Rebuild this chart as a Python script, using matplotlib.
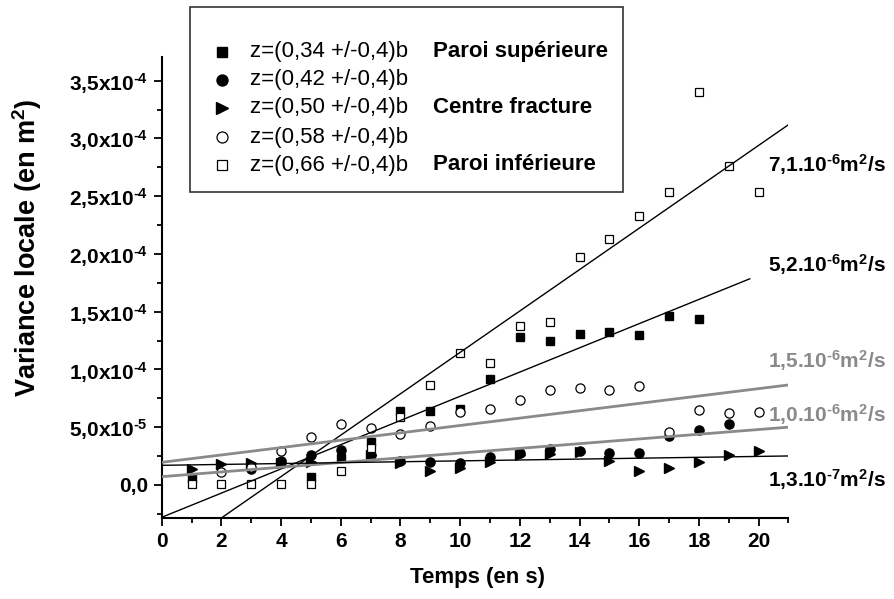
import numpy as np
import matplotlib
matplotlib.use("Agg")
import matplotlib.pyplot as plt
from matplotlib.lines import Line2D
from matplotlib.patches import Rectangle

plt.rcParams['font.family'] = ['Liberation Sans', 'DejaVu Sans']
plt.rcParams['mathtext.fontset'] = 'custom'
plt.rcParams['mathtext.rm'] = 'Liberation Sans:bold'
plt.rcParams['mathtext.bf'] = 'Liberation Sans:bold'
plt.rcParams['mathtext.default'] = 'bf'

# values in units of 1e-4 m^2
t_sup = [1, 4, 5, 6, 7, 8, 9, 10, 11, 12, 13, 14, 15, 16, 17, 18]
v_sup = [0.06, 0.19, 0.072, 0.23, 0.375, 0.64, 0.643, 0.66, 0.92, 1.28, 1.25, 1.31, 1.32, 1.30, 1.466, 1.44]

t_042 = [3, 4, 5, 6, 7, 8, 9, 10, 11, 12, 13, 14, 15, 16, 17, 18, 19]
v_042 = [0.14, 0.21, 0.26, 0.303, 0.26, 0.21, 0.20, 0.19, 0.24, 0.274, 0.31, 0.29, 0.28, 0.28, 0.42, 0.476, 0.525]

t_cen = [1, 2, 3, 4, 5, 7, 8, 9, 10, 11, 12, 13, 14, 15, 16, 17, 18, 19, 20]
v_cen = [0.136, 0.18, 0.188, 0.19, 0.20, 0.26, 0.19, 0.124, 0.144, 0.20, 0.26, 0.27, 0.285, 0.21, 0.124, 0.144, 0.20, 0.26, 0.297]

t_058 = [2, 3, 4, 5, 6, 7, 8, 9, 10, 11, 12, 13, 14, 15, 16, 17, 18, 19, 20]
v_058 = [0.115, 0.153, 0.29, 0.413, 0.525, 0.49, 0.44, 0.51, 0.63, 0.655, 0.736, 0.82, 0.837, 0.82, 0.857, 0.46, 0.65, 0.626, 0.635]

t_inf = [1, 2, 3, 4, 5, 6, 7, 8, 9, 10, 11, 12, 13, 14, 15, 16, 17, 18, 19, 20]
v_inf = [0.01, 0.01, 0.01, 0.01, 0.01, 0.124, 0.323, 0.586, 0.866, 1.145, 1.06, 1.377, 1.41, 1.97, 2.13, 2.33, 2.54, 3.40, 2.76, 2.54]

# linear fits (intercept, slope in 1e-4 units), drawn from 0 to t_end
fit_names = [r'7,1.10$^{\text{-}6}$m$^{2}$/s', r'5,2.10$^{\text{-}6}$m$^{2}$/s', r'1,5.10$^{\text{-}6}$m$^{2}$/s',
             r'1,0.10$^{\text{-}6}$m$^{2}$/s', r'1,3.10$^{\text{-}7}$m$^{2}$/s']
fit_b = [-0.644, -0.28, 0.196, 0.072, 0.17]
fit_a = [0.1792, 0.1048, 0.0319, 0.0204, 0.00386]
fit_end = [21, 19.7, 21, 21, 21]
fit_col = ['black', 'black', '#8a8a8a', '#8a8a8a', 'black']
fit_lw = [1.0, 1.0, 2.0, 2.0, 1.0]
label_y = [2.77, 1.905, 1.08, 0.606, 0.043]

legend_z = ['z=(0,34 +/-0,4)b', 'z=(0,42 +/-0,4)b', 'z=(0,50 +/-0,4)b', 'z=(0,58 +/-0,4)b', 'z=(0,66 +/-0,4)b']
legend_name = ['Paroi supérieure', '', 'Centre fracture', '', 'Paroi inférieure']

ytick_vals = [0, 0.5, 1.0, 1.5, 2.0, 2.5, 3.0, 3.5]
ytick_labels = ['0,0', r'5,0x10$^{\text{-}5}$', r'1,0x10$^{\text{-}4}$', r'1,5x10$^{\text{-}4}$',
                r'2,0x10$^{\text{-}4}$', r'2,5x10$^{\text{-}4}$', r'3,0x10$^{\text{-}4}$', r'3,5x10$^{\text{-}4}$']

W, H = 895, 599
fig = plt.figure(figsize=(W / 100, H / 100), dpi=100)
ax = fig.add_axes([161.7 / W, 1 - 518 / H, (788.5 - 161.7) / W, (518 - 57) / H])

styles = [
    (t_sup, v_sup, dict(marker='s', ms=6.2, mfc='black', mec='black')),
    (t_042, v_042, dict(marker='o', ms=6.6, mfc='black', mec='black')),
    (t_cen, v_cen, dict(marker='>', ms=6.8, mfc='black', mec='black')),
    (t_058, v_058, dict(marker='o', ms=6.6, mfc='white', mec='black', mew=0.9)),
    (t_inf, v_inf, dict(marker='s', ms=6.0, mfc='white', mec='black', mew=0.9)),
]
handles = []
for t, v, st in styles:
    ax.plot(t, np.array(v) * 1e-4, ls='none', zorder=2, **st)
    handles.append(st)

for b, a, te, c, lw, name, ly in zip(fit_b, fit_a, fit_end, fit_col, fit_lw, fit_names, label_y):
    tt = np.array([0, te])
    ax.plot(tt, (b + a * tt) * 1e-4, color=c, lw=lw, zorder=3)
    ax.text(20.3, ly * 1e-4, name, color=c, fontsize=15, fontweight='bold',
            ha='left', va='center', clip_on=False)

ax.set_xlim(0, 21)
ax.set_ylim(-0.286e-4, 3.705e-4)
ax.set_xticks(np.arange(0, 21, 2))
ax.set_xticks(np.arange(0, 22, 1), minor=True)
ax.set_yticks(np.array(ytick_vals) * 1e-4)
ax.set_yticklabels(ytick_labels)
ax.set_yticks(np.arange(-0.25, 3.75, 0.25) * 1e-4, minor=True)
for s in ['top', 'right']:
    ax.spines[s].set_visible(False)
for s in ['left', 'bottom']:
    ax.spines[s].set_linewidth(1.5)
ax.tick_params(which='major', direction='out', length=6, width=1.3, labelsize=15, pad=4)
ax.tick_params(which='minor', direction='out', length=3.5, width=1.3)
for lab in ax.get_xticklabels() + ax.get_yticklabels():
    lab.set_fontweight('bold')

fig.text(478 / W, 1 - 578 / H, 'Temps (en s)', fontsize=16, fontweight='bold', ha='center', va='center')
fig.text(27 / W, 1 - 248 / H, 'Variance locale (en m$^{2}$)', fontsize=19.5, fontweight='bold',
         rotation=90, ha='center', va='center')

# legend box
fig.add_artist(Rectangle((190 / W, 1 - 192 / H), (623 - 190) / W, (192 - 7) / H,
                         transform=fig.transFigure, fill=False, ec='#333333', lw=1.2))
rows = [52, 80, 108, 137, 165]
for st, ry, lz, ln in zip(handles, rows, legend_z, legend_name):
    fig.add_artist(Line2D([221.7 / W], [1 - ry / H], transform=fig.transFigure, ls='none',
                          **{**st, 'ms': st['ms'] * 1.2}))
    fig.text(250 / W, 1 - ry / H, lz, fontsize=16, ha='left', va='center')
    fig.text(433 / W, 1 - ry / H, ln, fontsize=16, fontweight='bold', ha='left', va='center')

fig.savefig('out.png', dpi=100)
